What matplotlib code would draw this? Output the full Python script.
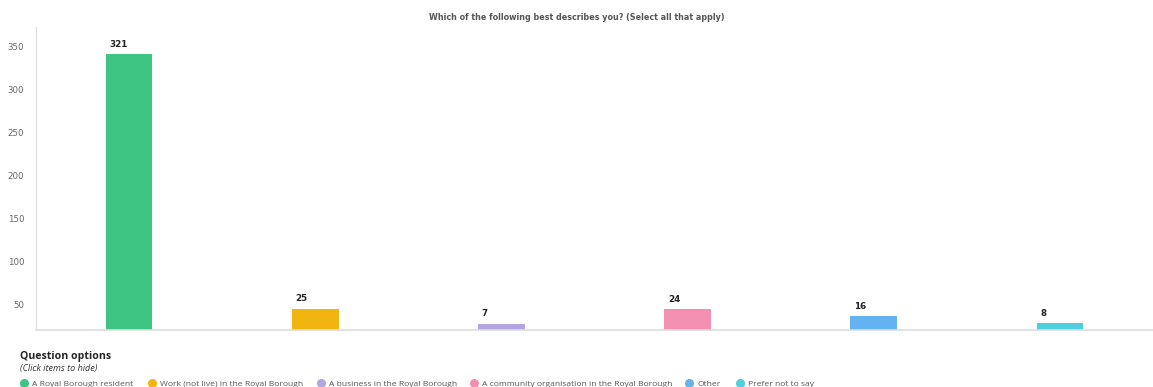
import matplotlib
matplotlib.use("Agg")
import matplotlib.pyplot as plt
from matplotlib.lines import Line2D
from matplotlib.transforms import ScaledTranslation

categories = ["A Royal Borough resident",
              "Work (not live) in the Royal Borough",
              "A business in the Royal Borough",
              "A community organisation in the Royal Borough",
              "Other",
              "Prefer not to say"]
counts = [321, 25, 7, 24, 16, 8]
colors = ["#3ec483", "#f2b50f", "#b3a6e0", "#f38fb0", "#62b3f0", "#4dcfdc"]
yticks = [50, 100, 150, 200, 250, 300, 350]

plt.rcParams['font.family'] = ['DejaVu Sans']

W, H = 1153, 387
fig = plt.figure(figsize=(W / 100, H / 100), dpi=100)
ax = fig.add_axes([36 / W, 57 / H, (W - 36) / W, (330 - 27) / H])

bw = 0.25
x = list(range(len(counts)))
ax.bar(x, counts, width=bw, color=colors)
# value labels sit just inside the left edge of each bar
for xi, v in zip(x, counts):
    ax.annotate(str(v), (xi - bw / 2, v), xytext=(2.5, 4), textcoords="offset points",
                ha="left", va="bottom", fontsize=6.3, fontweight="bold", color="#222222")

ax.set_xlim(-0.5, len(counts) - 0.5)
ax.set_ylim(0, 353)
ax.set_xticks([])
ax.set_yticks(yticks)
ax.set_yticklabels([str(t) for t in yticks], fontsize=6.2, color="#666666")
ax.tick_params(axis="y", length=0, pad=8.5)
# labels in the original sit a little below their values
shift = ScaledTranslation(0, -17 / 100, fig.dpi_scale_trans)
for lab in ax.get_yticklabels():
    lab.set_transform(lab.get_transform() + shift)

for s in ["top", "right"]:
    ax.spines[s].set_visible(False)
ax.spines["left"].set_color("#dddddd")
ax.spines["bottom"].set_color("#dddddd")
ax.spines["bottom"].set_linewidth(1.2)

fig.text(577 / W, 1 - 17 / H, "Which of the following best describes you? (Select all that apply)",
         ha="center", va="center", fontsize=5.8, fontweight="bold", color="#555555")

# legend block
fig.text(20 / W, 1 - 357 / H, "Question options", ha="left", va="center",
         fontsize=7.6, fontweight="bold", color="#222222", family="Open Sans")
fig.text(20 / W, 1 - 368 / H, "(Click items to hide)", ha="left", va="center",
         fontsize=6.5, style="italic", color="#333333", family="Open Sans")
marker_x = [24, 152, 321, 474, 689, 740]
for mx, lab, c in zip(marker_x, categories, colors):
    fig.add_artist(Line2D([mx / W], [1 - 383 / H], marker="o", markersize=5.5,
                          color=c, linestyle="none", transform=fig.transFigure))
    fig.text((mx + 8) / W, 1 - 384 / H, lab, ha="left", va="center",
             fontsize=6.1, color="#555555", family="Open Sans")

fig.savefig("out.png", dpi=100)
